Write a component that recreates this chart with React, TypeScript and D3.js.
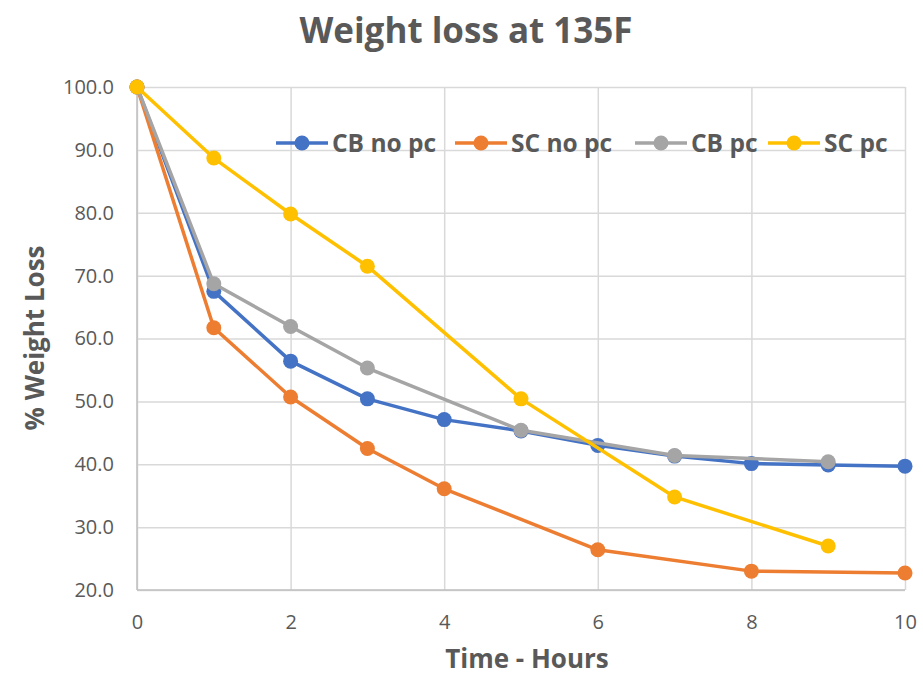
import { useRef, useEffect } from "react";
import * as d3 from "d3";

const WIDTH = 923;
const HEIGHT = 676;
const MARGIN = { top: 87, right: 18, bottom: 86, left: 137 };
const INNER_W = WIDTH - MARGIN.left - MARGIN.right;
const INNER_H = HEIGHT - MARGIN.top - MARGIN.bottom;

const FONT = "'Open Sans', Lato, sans-serif";
const TEXT = "#595959";

// hours and % weight remaining per series
const cbNoPcHours = [0, 1, 2, 3, 4, 5, 6, 7, 8, 9, 10];
const cbNoPcValues = [100, 67.5, 56.4, 50.4, 47.1, 45.3, 43.0, 41.3, 40.1, 39.9, 39.7];

const scNoPcHours = [0, 1, 2, 3, 4, 6, 8, 10];
const scNoPcValues = [100, 61.7, 50.7, 42.5, 36.1, 26.4, 23.0, 22.7];

const cbPcHours = [0, 1, 2, 3, 5, 7, 9];
const cbPcValues = [100, 68.7, 61.9, 55.3, 45.4, 41.4, 40.4];

const scPcHours = [0, 1, 2, 3, 5, 7, 9];
const scPcValues = [100, 88.7, 79.8, 71.5, 50.4, 34.8, 27.0];

const seriesNames = ["CB no pc", "SC no pc", "CB pc", "SC pc"];
const seriesColors = ["#4472c4", "#ed7d31", "#a5a5a5", "#ffc000"];

const xTicks = [0, 2, 4, 6, 8, 10];
const yTicks = [20, 30, 40, 50, 60, 70, 80, 90, 100];

// legend item x offsets (line start)
const legendX = [276, 455, 635, 768];

export default function App() {
  const svgRef = useRef<SVGSVGElement>(null);

  useEffect(() => {
    const svg = d3.select(svgRef.current);
    svg.selectAll("*").remove();

    const x = d3.scaleLinear().domain([0, 10]).range([0, INNER_W]);
    const y = d3.scaleLinear().domain([20, 100]).range([INNER_H, 0]);

    const series = [
      { hours: cbNoPcHours, values: cbNoPcValues },
      { hours: scNoPcHours, values: scNoPcValues },
      { hours: cbPcHours, values: cbPcValues },
      { hours: scPcHours, values: scPcValues },
    ].map((s, i) => ({
      name: seriesNames[i],
      color: seriesColors[i],
      points: s.hours.map((h, j) => ({ h, v: s.values[j] })),
    }));

    // title
    svg
      .append("text")
      .attr("x", 466)
      .attr("y", 43)
      .attr("text-anchor", "middle")
      .attr("font-family", FONT)
      .attr("font-weight", 700)
      .attr("font-size", 35)
      .attr("fill", TEXT)
      .text("Weight loss at 135F");

    const g = svg.append("g").attr("transform", `translate(${MARGIN.left},${MARGIN.top})`);

    // horizontal grid
    g.append("g")
      .call(d3.axisLeft(y).tickValues(yTicks).tickSize(-INNER_W).tickFormat(() => ""))
      .call((a) => a.select(".domain").remove())
      .call((a) => a.selectAll("line").attr("stroke", "#d9d9d9").attr("stroke-width", 1.5));

    // vertical grid
    g.append("g")
      .attr("transform", `translate(0,${INNER_H})`)
      .call(d3.axisBottom(x).tickValues(xTicks).tickSize(-INNER_H).tickFormat(() => ""))
      .call((a) => a.select(".domain").remove())
      .call((a) => a.selectAll("line").attr("stroke", "#d9d9d9").attr("stroke-width", 1.5));

    // axis lines
    g.append("line")
      .attr("x1", 0).attr("x2", 0).attr("y1", 0).attr("y2", INNER_H)
      .attr("stroke", "#bfbfbf").attr("stroke-width", 1.5);
    g.append("line")
      .attr("x1", 0).attr("x2", INNER_W).attr("y1", INNER_H).attr("y2", INNER_H)
      .attr("stroke", "#bfbfbf").attr("stroke-width", 1.5);

    // y tick labels
    g.append("g")
      .call(d3.axisLeft(y).tickValues(yTicks).tickSize(0).tickPadding(23).tickFormat(d3.format(".1f")))
      .call((a) => a.select(".domain").remove())
      .call((a) =>
        a.selectAll("text").attr("fill", TEXT).attr("font-size", "20px").attr("font-family", FONT)
      );

    // x tick labels
    g.append("g")
      .attr("transform", `translate(0,${INNER_H})`)
      .call(d3.axisBottom(x).tickValues(xTicks).tickSize(0).tickPadding(25).tickFormat(d3.format("d")))
      .call((a) => a.select(".domain").remove())
      .call((a) =>
        a.selectAll("text").attr("fill", TEXT).attr("font-size", "20px").attr("font-family", FONT)
      );

    // axis titles
    svg
      .append("text")
      .attr("x", MARGIN.left + INNER_W / 2 + 6)
      .attr("y", 668)
      .attr("text-anchor", "middle")
      .attr("font-family", FONT)
      .attr("font-weight", 700)
      .attr("font-size", 26)
      .attr("fill", TEXT)
      .text("Time - Hours");

    svg
      .append("text")
      .attr("transform", `translate(44,338) rotate(-90)`)
      .attr("text-anchor", "middle")
      .attr("font-family", FONT)
      .attr("font-weight", 700)
      .attr("font-size", 26)
      .attr("fill", TEXT)
      .text("% Weight Loss");

    // lines + markers
    const line = d3
      .line<{ h: number; v: number }>()
      .x((d) => x(d.h))
      .y((d) => y(d.v));

    series.forEach((s) => {
      g.append("path")
        .datum(s.points)
        .attr("d", line)
        .attr("fill", "none")
        .attr("stroke", s.color)
        .attr("stroke-width", 3.5)
        .attr("stroke-linejoin", "round");
      g.selectAll(null)
        .data(s.points)
        .join("circle")
        .attr("cx", (d) => x(d.h))
        .attr("cy", (d) => y(d.v))
        .attr("r", 7.5)
        .attr("fill", s.color);
    });

    // legend
    const legend = svg.append("g").attr("transform", "translate(0,143)");
    series.forEach((s, i) => {
      const lx = legendX[i];
      legend
        .append("line")
        .attr("x1", lx).attr("x2", lx + 52).attr("y1", 0).attr("y2", 0)
        .attr("stroke", s.color).attr("stroke-width", 3.5);
      legend
        .append("circle")
        .attr("cx", lx + 26).attr("cy", 0).attr("r", 7.5)
        .attr("fill", s.color);
      legend
        .append("text")
        .attr("x", lx + 56)
        .attr("y", 9)
        .attr("font-family", FONT)
        .attr("font-weight", 700)
        .attr("font-size", 24.5)
        .attr("fill", TEXT)
        .text(s.name);
    });
  }, []);

  return (
    <svg
      ref={svgRef}
      width={WIDTH}
      height={HEIGHT}
      viewBox={`0 0 ${WIDTH} ${HEIGHT}`}
      style={{ position: "absolute", left: 0, top: 0, background: "#fff" }}
    />
  );
}
